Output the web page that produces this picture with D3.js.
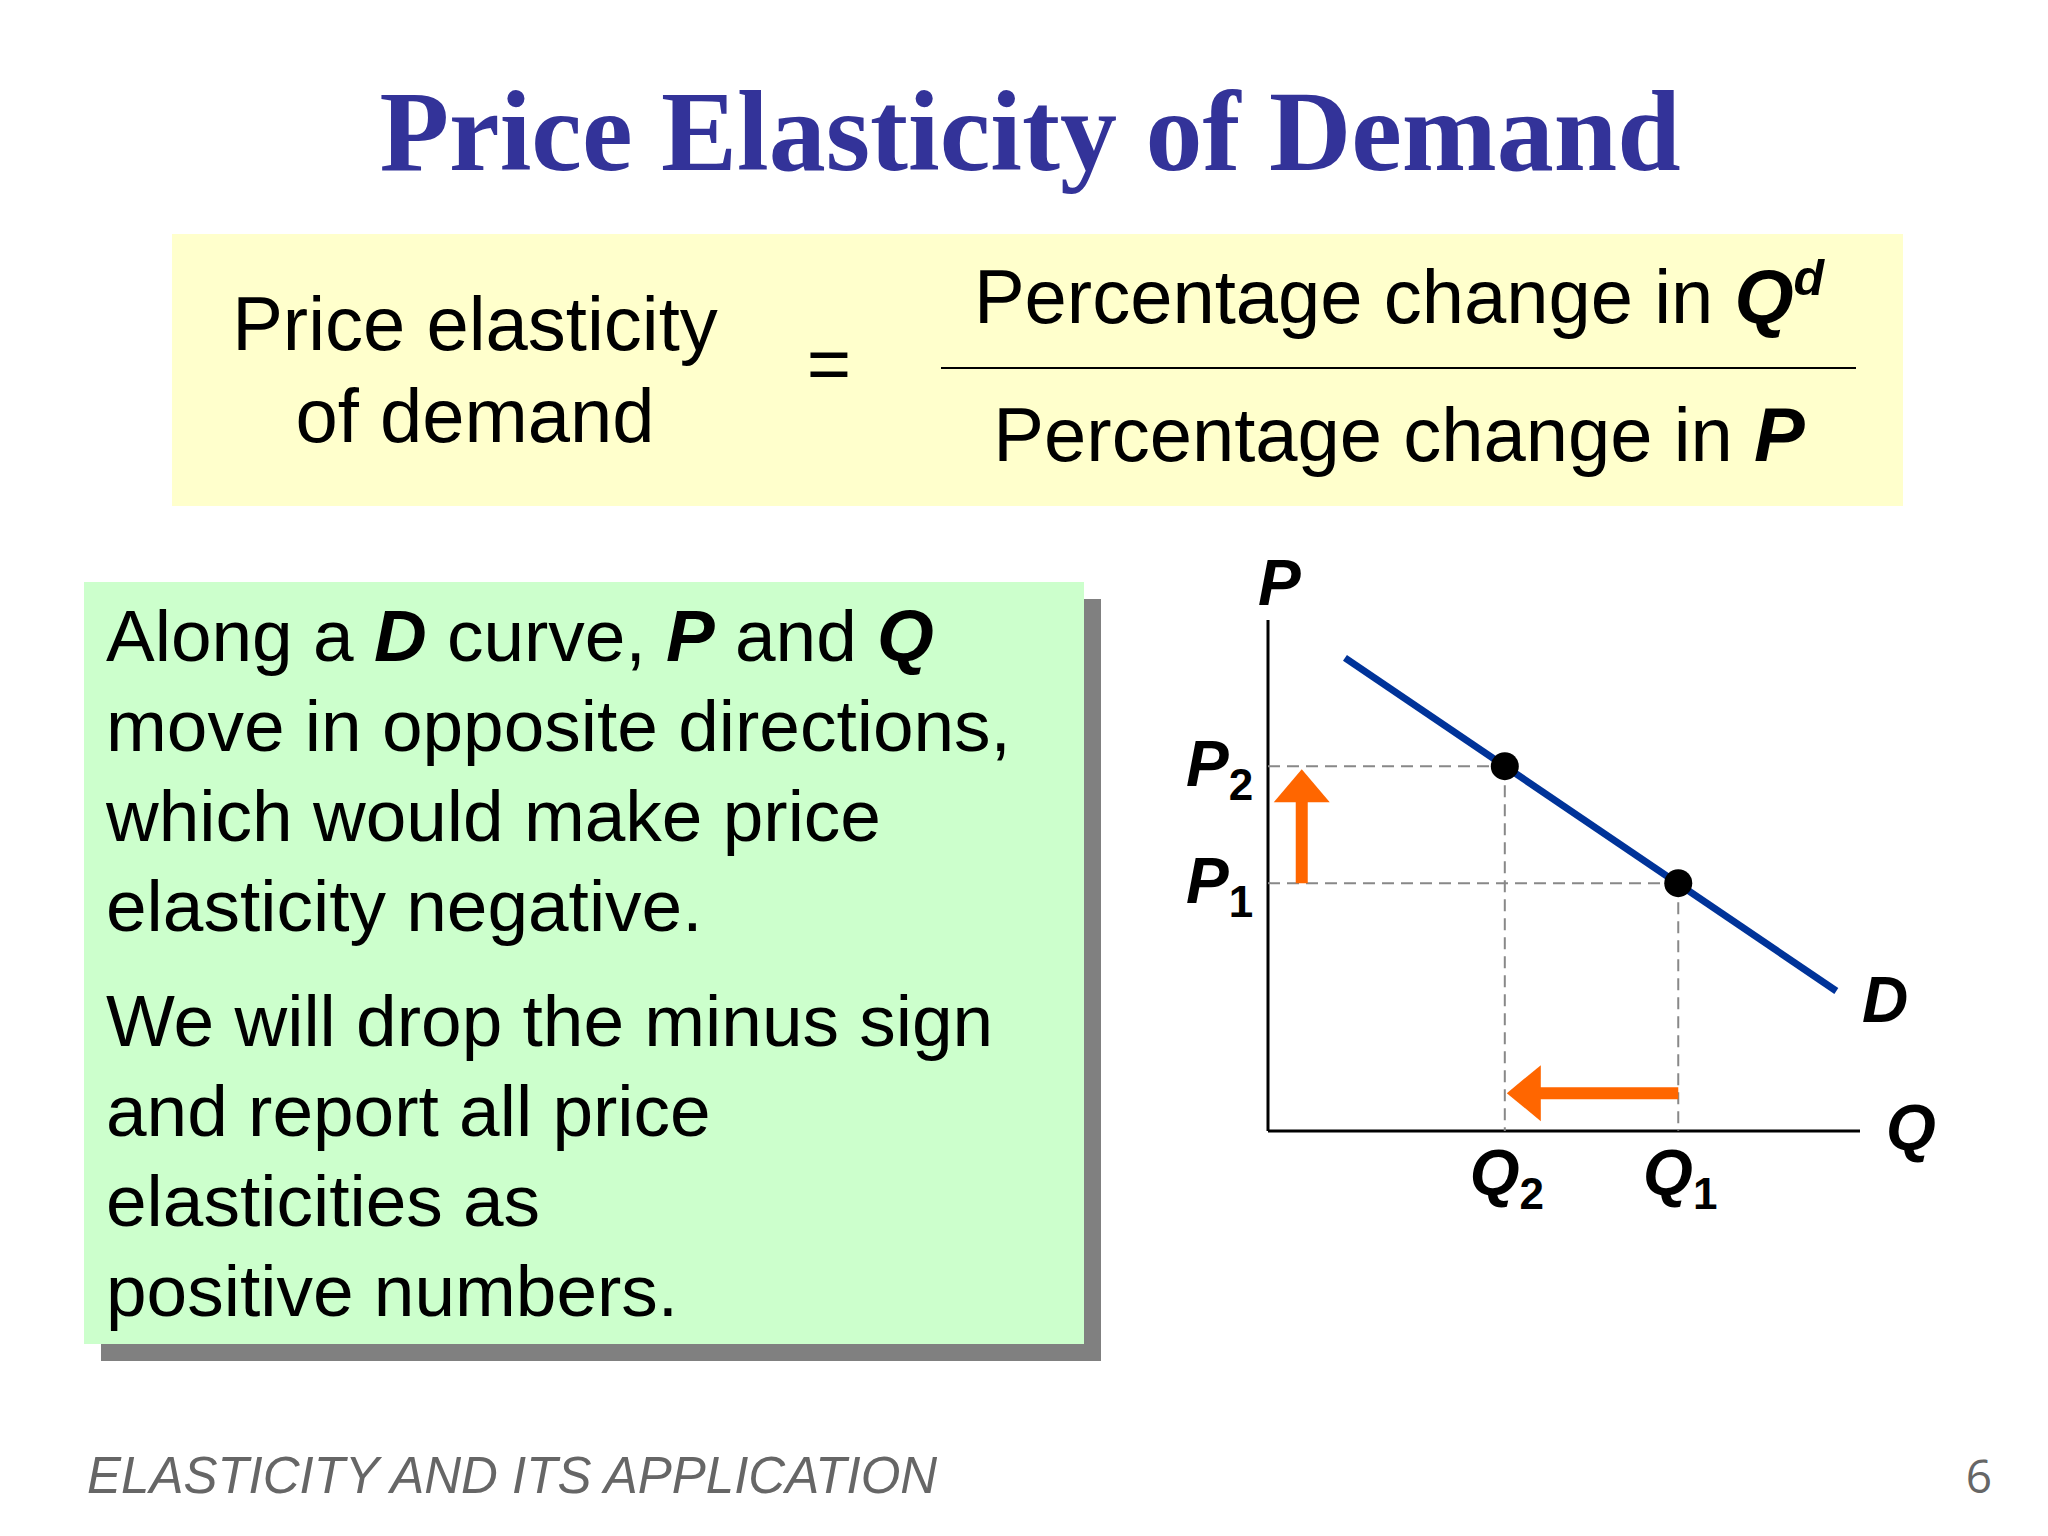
<!DOCTYPE html><html><head><meta charset="utf-8">
<script src="https://cdn.jsdelivr.net/npm/d3@7"></script>
<style>body{margin:0;background:#fff}</style></head><body>
<script>
const qLabels=["Q2","Q1"], qValues=[4.0,6.93];
const pLabels=["P2","P1"], pValues=[7.14,4.85];
const demandLine=[{q:1.3,p:9.26},{q:9.6,p:2.74}];
const points=[{q:4.0,p:7.14},{q:6.93,p:4.85}];
const bodyLines1=[[["Along a ",0],["D",1],[" curve, ",0],["P",1],[" and ",0],["Q",1]],[["move in opposite directions,",0]],[["which would make price",0]],[["elasticity negative.",0]]];
const bodyLines2=["We will drop the minus sign","and report all price","elasticities as","positive numbers."];

const W=2048,H=1536;
const svg=d3.select("body").append("svg").attr("width",W).attr("height",H);
const sans="Liberation Sans, Arial, sans-serif";
svg.append("text").attr("x",1030).attr("y",170).attr("text-anchor","middle")
 .attr("font-family","Liberation Serif, serif").attr("font-weight","bold").attr("font-size",114)
 .attr("fill","#333399").text("Price Elasticity of Demand");
svg.append("rect").attr("x",172).attr("y",234).attr("width",1731).attr("height",272).attr("fill","#ffffcc");
const ft=(x,y,anchor)=>svg.append("text").attr("x",x).attr("y",y).attr("text-anchor",anchor).attr("font-family",sans).attr("font-size",76).attr("fill","#000");
ft(475,350,"middle").text("Price elasticity");
ft(475,442,"middle").text("of demand");
ft(829,390,"middle").text("=");
let t=ft(1399,323,"middle");t.append("tspan").text("Percentage change in ");
t.append("tspan").attr("font-weight","bold").attr("font-style","italic").text("Q");
t.append("tspan").attr("font-weight","bold").attr("font-style","italic").attr("font-size",50).attr("dy",-28).text("d");
svg.append("line").attr("x1",941).attr("x2",1856).attr("y1",368).attr("y2",368).attr("stroke","#000").attr("stroke-width",2);
t=ft(1399,461,"middle");t.append("tspan").text("Percentage change in ");
t.append("tspan").attr("font-weight","bold").attr("font-style","italic").text("P");
svg.append("rect").attr("x",101).attr("y",599).attr("width",1000).attr("height",762).attr("fill","#808080");
svg.append("rect").attr("x",84).attr("y",582).attr("width",1000).attr("height",762).attr("fill","#ccffcc");
bodyLines1.forEach((ln,i)=>{const tx=svg.append("text").attr("x",106).attr("y",661+i*90).attr("font-family",sans).attr("font-size",73);
 ln.forEach(([s,b])=>{const sp=tx.append("tspan").text(s);if(b)sp.attr("font-weight","bold").attr("font-style","italic");});});
bodyLines2.forEach((s,i)=>svg.append("text").attr("x",106).attr("y",1046+i*90).attr("font-family",sans).attr("font-size",73).text(s));
svg.append("text").attr("x",87).attr("y",1493).attr("font-family",sans).attr("font-style","italic").attr("font-size",51).attr("fill","#666").text("ELASTICITY AND ITS APPLICATION");
svg.append("text").attr("x",1992).attr("y",1493).attr("text-anchor","end").attr("font-family","Open Sans, sans-serif").attr("font-size",46).attr("fill","#666").text("6");
const x=d3.scaleLinear().domain([0,10]).range([1268,1860]);
const y=d3.scaleLinear().domain([0,10]).range([1131,620]);
const g=svg.append("g");
g.append("line").attr("x1",x(0)).attr("x2",x(0)).attr("y1",y(0)).attr("y2",y(10)).attr("stroke","#000").attr("stroke-width",3);
g.append("line").attr("x1",x(0)).attr("x2",x(10)).attr("y1",y(0)).attr("y2",y(0)).attr("stroke","#000").attr("stroke-width",3);
points.forEach(p=>{
 g.append("line").attr("x1",x(0)).attr("x2",x(p.q)).attr("y1",y(p.p)).attr("y2",y(p.p)).attr("stroke","#888").attr("stroke-width",2).attr("stroke-dasharray","12,7");
 g.append("line").attr("x1",x(p.q)).attr("x2",x(p.q)).attr("y1",y(p.p)).attr("y2",y(0)).attr("stroke","#888").attr("stroke-width",2).attr("stroke-dasharray","12,7");
});
g.append("path").datum(demandLine).attr("d",d3.line().x(d=>x(d.q)).y(d=>y(d.p))).attr("stroke","#003399").attr("stroke-width",7).attr("fill","none");
g.selectAll("circle").data(points).join("circle").attr("cx",d=>x(d.q)).attr("cy",d=>y(d.p)).attr("r",14).attr("fill","#000");
const ax=x(0.57), ay=y(0.74), or="#ff6600";
g.append("line").attr("x1",ax).attr("x2",ax).attr("y1",y(pValues[1])).attr("y2",y(pValues[0])+25).attr("stroke",or).attr("stroke-width",12);
g.append("path").attr("d",`M${ax},${y(pValues[0])+3}L${ax-28},${y(pValues[0])+36}L${ax+28},${y(pValues[0])+36}Z`).attr("fill",or);
g.append("line").attr("x1",x(qValues[1])).attr("x2",x(qValues[0])+30).attr("y1",ay).attr("y2",ay).attr("stroke",or).attr("stroke-width",12);
g.append("path").attr("d",`M${x(qValues[0])+2},${ay}L${x(qValues[0])+36},${ay-28}L${x(qValues[0])+36},${ay+28}Z`).attr("fill",or);
const lab=(s,sub,xx,yy,anchor)=>{const tx=svg.append("text").attr("x",xx).attr("y",yy).attr("text-anchor",anchor||"start").attr("font-family",sans).attr("font-weight","bold").attr("font-size",64);
 tx.append("tspan").attr("font-style","italic").text(s); if(sub)tx.append("tspan").attr("font-size",44).attr("dy",14).text(sub);};
lab("P","",1258,605);
lab("Q","",1886,1150);
lab("D","",1862,1022);
pLabels.forEach((s,i)=>lab(s[0],s[1],1186,y(pValues[i])+20));
qLabels.forEach((s,i)=>lab(s[0],s[1],x(qValues[i])+2,1195,"middle"));
</script></body></html>
